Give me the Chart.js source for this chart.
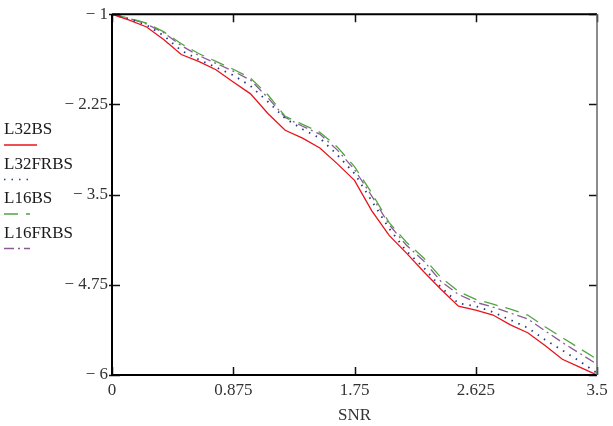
<!DOCTYPE html>
<html>
<head>
<meta charset="utf-8">
<script src="https://cdn.jsdelivr.net/npm/chart.js@4.4.1/dist/chart.umd.min.js"></script>
<style>
  html, body { margin: 0; padding: 0; background: #fff; }
  #wrap { width: 613px; height: 426px; }
</style>
</head>
<body>
<div id="wrap"><canvas id="snrChart" width="613" height="426"></canvas></div>
<script>
// SNR sweep (x) and the four curves
const snr = [0, 0.125, 0.25, 0.375, 0.5, 0.625, 0.75, 0.875, 1.0, 1.125, 1.25, 1.375,
  1.5, 1.625, 1.75, 1.875, 2.0, 2.125, 2.25, 2.375, 2.5, 2.625, 2.75, 2.875,
  3.0, 3.125, 3.25, 3.375, 3.5];

const l32bs = [-1, -1.082, -1.177, -1.354, -1.559, -1.654, -1.770, -1.940, -2.104,
  -2.376, -2.608, -2.717, -2.853, -3.071, -3.302, -3.725, -4.065, -4.311, -4.569,
  -4.815, -5.046, -5.101, -5.169, -5.305, -5.414, -5.591, -5.782, -5.891, -6];

const l32frbs = [-1, -1.068, -1.150, -1.300, -1.504, -1.627, -1.736, -1.845, -1.995,
  -2.213, -2.444, -2.594, -2.717, -2.948, -3.207, -3.589, -3.970, -4.283, -4.515,
  -4.787, -5.005, -5.046, -5.128, -5.237, -5.346, -5.510, -5.659, -5.809, -5.973];

const l16bs = [-1, -1.054, -1.123, -1.245, -1.409, -1.545, -1.654, -1.763, -1.886,
  -2.117, -2.417, -2.526, -2.635, -2.839, -3.112, -3.480, -3.888, -4.161, -4.379,
  -4.651, -4.842, -4.951, -5.019, -5.087, -5.169, -5.332, -5.482, -5.632, -5.782];

const l16frbs = [-1, -1.061, -1.136, -1.259, -1.436, -1.572, -1.681, -1.790, -1.913,
  -2.158, -2.431, -2.553, -2.662, -2.880, -3.153, -3.520, -3.916, -4.202, -4.420,
  -4.706, -4.883, -4.992, -5.060, -5.142, -5.223, -5.387, -5.550, -5.700, -5.850];

const seriesNames = ["L32BS", "L32FRBS", "L16BS", "L16FRBS"];
const xTickVals = [0, 0.875, 1.75, 2.625, 3.5];
const yTickVals = [-1, -2.25, -3.5, -4.75, -6];

const SERIF = "'Liberation Serif', 'DejaVu Serif', serif";

function pairs(ys) {
  return ys.map((y, i) => ({ x: snr[i], y }));
}

// Mathcad-style frame: inner ticks on all four sides
const framePlugin = {
  id: "frame",
  afterDatasetsDraw(chart) {
    const { ctx, chartArea: a, scales } = chart;
    ctx.save();
    ctx.strokeStyle = "#111";
    ctx.lineWidth = 1.5;
    scales.x.ticks.forEach((t) => {
      const px = Math.round(scales.x.getPixelForValue(t.value)) + 0.5;
      ctx.beginPath();
      ctx.moveTo(px, a.bottom); ctx.lineTo(px, a.bottom - 8);
      ctx.moveTo(px, a.top); ctx.lineTo(px, a.top + 8);
      ctx.stroke();
    });
    scales.y.ticks.forEach((t) => {
      const py = Math.round(scales.y.getPixelForValue(t.value)) + 0.5;
      ctx.beginPath();
      ctx.moveTo(a.left - 3, py); ctx.lineTo(a.left + 8, py);
      ctx.moveTo(a.right, py); ctx.lineTo(a.right - 8, py);
      ctx.stroke();
    });
    ctx.lineWidth = 2;
    ctx.strokeStyle = "#000";
    ctx.beginPath();
    ctx.moveTo(a.left, a.top); ctx.lineTo(a.left, a.bottom); ctx.lineTo(a.right, a.bottom);
    ctx.moveTo(a.left, a.top); ctx.lineTo(a.right, a.top);
    ctx.stroke();
    ctx.strokeStyle = "#666";
    ctx.lineWidth = 1.5;
    ctx.beginPath();
    ctx.moveTo(a.right, a.top); ctx.lineTo(a.right, a.bottom);
    ctx.stroke();
    ctx.restore();
  },
};

// legend stacked at the left: name with a line sample under it
const sideLegend = {
  id: "sideLegend",
  afterDraw(chart) {
    const { ctx } = chart;
    ctx.save();
    ctx.font = "17px " + SERIF;
    ctx.textBaseline = "middle";
    ctx.textAlign = "left";
    chart.data.datasets.forEach((ds, i) => {
      const ty = 130 + i * 34.5;
      ctx.fillStyle = "#1a1a1a";
      ctx.fillText(ds.label, 4, ty);
      ctx.strokeStyle = ds.borderColor;
      ctx.lineWidth = 1.6;
      ctx.setLineDash(ds.borderDash || []);
      ctx.beginPath();
      ctx.moveTo(4, ty + 15);
      ctx.lineTo(i === 0 ? 37 : 30, ty + 15);
      ctx.stroke();
    });
    ctx.restore();
  },
};

new Chart(document.getElementById("snrChart"), {
  type: "line",
  data: {
    datasets: [
      { label: seriesNames[0], data: pairs(l32bs), borderColor: "#e8141c", borderWidth: 1.3, borderDash: [] },
      { label: seriesNames[1], data: pairs(l32frbs), borderColor: "#1f3a8a", borderWidth: 1.8, borderDash: [1.5, 6] },
      { label: seriesNames[2], data: pairs(l16bs), borderColor: "#4fa640", borderWidth: 1.3, borderDash: [14, 8] },
      { label: seriesNames[3], data: pairs(l16frbs), borderColor: "#8b5b94", borderWidth: 1.3, borderDash: [10, 4, 2, 4] },
    ],
  },
  options: {
    responsive: false,
    animation: false,
    devicePixelRatio: 1,
    layout: { padding: { top: 8, right: 16, left: 0, bottom: 0 } },
    elements: { point: { radius: 0 }, line: { tension: 0, fill: false } },
    plugins: { legend: { display: false }, tooltip: { enabled: false } },
    scales: {
      x: {
        type: "linear",
        min: 0,
        max: 3.5,
        afterBuildTicks: (s) => { s.ticks = xTickVals.map((v) => ({ value: v })); },
        afterFit: (s) => { s.height = 51; },
        ticks: {
          color: "#333",
          font: { family: SERIF, size: 17 },
          padding: 5,
          maxRotation: 0,
          callback: (v) => String(v),
        },
        grid: { display: false, drawTicks: false },
        border: { display: false },
        title: {
          display: true,
          text: "SNR",
          color: "#333",
          font: { family: SERIF, size: 17 },
          padding: { top: 2, bottom: 0 },
        },
      },
      y: {
        min: -6,
        max: -1,
        afterBuildTicks: (s) => { s.ticks = yTickVals.map((v) => ({ value: v })); },
        afterFit: (s) => { s.width = 112; },
        ticks: {
          color: "#333",
          font: { family: SERIF, size: 17 },
          padding: 4,
          callback: (v) => "\u2212 " + Math.abs(v),
        },
        grid: { display: false, drawTicks: false },
        border: { display: false },
      },
    },
  },
  plugins: [framePlugin, sideLegend],
});
</script>
</body>
</html>
